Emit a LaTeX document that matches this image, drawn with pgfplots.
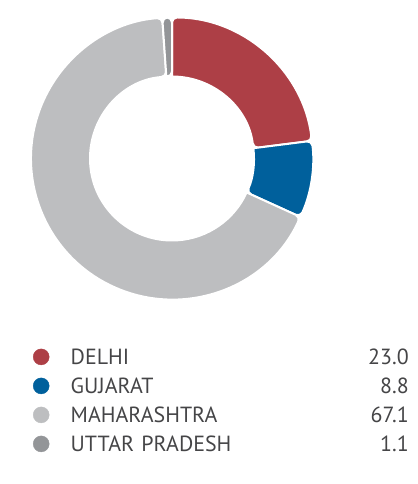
\documentclass[border=0pt]{standalone}
\usepackage{fontspec}
\setmainfont{PT Sans}
\usepackage{pgfplots}
\pgfplotsset{compat=1.18}
\usepackage{pgfplotstable}
\usetikzlibrary{calc}
\definecolor{cDelhi}{HTML}{AD3F46}
\definecolor{cGuj}{HTML}{00609C}
\definecolor{cMaha}{HTML}{BDBEC0}
\definecolor{cUP}{HTML}{939598}
\definecolor{txt}{HTML}{454547}
\pgfplotstableread{
value col
23.0 cDelhi
8.8 cGuj
67.1 cMaha
1.1 cUP
}\donutdata
\begin{document}
\begin{tikzpicture}
\begin{axis}[
  x=1bp, y=1bp, xmin=0, xmax=417, ymin=0, ymax=484,
  hide axis, clip=false,
  legend cell align=left,
  legend style={at={(axis cs:33,135.3)}, anchor=north west, draw=none, fill=none,
    inner sep=0pt, font=\fontsize{22}{26}\selectfont, text=txt,
    row sep=13bp, column sep=21.5bp,
    nodes={inner sep=0pt, text height=16bp, text depth=0pt, text width=338bp}},
]
\path (axis cs:0,0) rectangle (axis cs:417,484);
\coordinate (C) at (axis cs:172,325.5);
\def\cum{0}
\pgfplotsforeachungrouped \i in {0,...,3} {
  \pgfplotstablegetelem{\i}{value}\of\donutdata \let\v\pgfplotsretval
  \pgfplotstablegetelem{\i}{col}\of\donutdata \let\c\pgfplotsretval
  \pgfmathsetmacro\a{90-3.6*\cum}
  \pgfmathsetmacro\b{90-3.6*(\cum+\v)}
  \edef\temp{\noexpand\filldraw[fill=\c, draw=white, line width=2bp]
    (\noexpand$(C)+(\a:82bp)\noexpand$) [rounded corners=5bp]
    -- (\noexpand$(C)+(\a:141bp)\noexpand$)
    arc[start angle=\a, end angle=\b, radius=141bp]
    -- (\noexpand$(C)+(\b:82bp)\noexpand$) [sharp corners]
    arc[start angle=\b, end angle=\a, radius=82bp] -- cycle;}
  \temp
  \pgfmathsetmacro\cum{\cum+\v}
  \global\let\cum\cum
}
\addlegendimage{only marks, mark=*, mark size=8bp, color=cDelhi}
\addlegendentry{DELHI\hfill 23.0}
\addlegendimage{only marks, mark=*, mark size=8bp, color=cGuj}
\addlegendentry{GUJARAT\hfill 8.8}
\addlegendimage{only marks, mark=*, mark size=8bp, color=cMaha}
\addlegendentry{MAHARASHTRA\hfill 67.1}
\addlegendimage{only marks, mark=*, mark size=8bp, color=cUP}
\addlegendentry{UTTAR PRADESH\hfill 1.1}
\end{axis}
\end{tikzpicture}
\end{document}
